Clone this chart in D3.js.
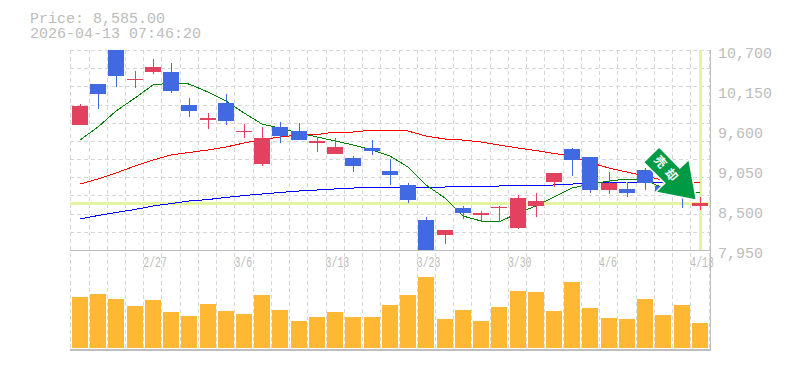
<!DOCTYPE html>
<html><head><meta charset="utf-8">
<script src="https://cdnjs.cloudflare.com/ajax/libs/d3/7.8.5/d3.min.js"></script>
<style>html,body{margin:0;padding:0;background:#fff}svg{display:block}text{font-family:"Liberation Mono",monospace}</style>
</head><body><svg id="c" width="785" height="370"></svg>
<script>
const dates=["2/20","2/24","2/25","2/26","2/27","3/2","3/3","3/4","3/5","3/6","3/9","3/10","3/11","3/12","3/13","3/16","3/17","3/18","3/19","3/23","3/24","3/25","3/26","3/27","3/30","3/31","4/1","4/2","4/3","4/6","4/7","4/8","4/9","4/10","4/13"];
const opens=[9930,10095,10345,10300,10466,10136,9861,9765,9724,9593,9490,9517,9462,9442,9366,9105,9311,8981,8637,7900,8225,8459,8459,8548,8665,8624,9009,9187,8775,8871,8734,8871,8747,8679,8598];
const closes=[9670,10230,10800,10290,10397,10397,9944,9737,9971,9579,9132,9641,9586,9428,9270,9215,9352,9036,8844,8362,8156,8527,8431,8534,8252,8555,8885,9339,9229,8775,8789,9050,8830,8844,8555];
const highs=[9960,10230,10850,10411,10576,10521,10040,9834,10095,9682,9641,9710,9696,9504,9490,9242,9462,9201,8871,8404,8225,8555,8486,8555,8706,8734,9009,9352,9229,9022,8885,9077,8885,8885,8679];
const lows=[9670,9895,10190,10177,10370,10109,9779,9614,9669,9490,9105,9421,9462,9297,9270,9022,9256,8844,8596,7850,8032,8376,8349,8335,8239,8404,8816,8967,8734,8720,8679,8775,8706,8527,8500];
const maShort=[9462,9641,9861,10040,10219,10246,10232,10122,9999,9834,9682,9627,9559,9504,9449,9394,9325,9242,9091,8844,8665,8417,8349,8335,8459,8555,8679,8802,8857,8899,8926,8912,8802,8747,8734];
const maMid=[8857,8926,9009,9105,9187,9256,9291,9325,9366,9421,9469,9504,9531,9538,9572,9572,9600,9600,9586,9517,9476,9462,9435,9394,9352,9318,9277,9242,9153,9077,9022,8967,8912,8885,8871];
const maLong=[8376,8424,8466,8507,8555,8589,8624,8644,8672,8699,8720,8741,8761,8775,8789,8802,8809,8816,8816,8816,8816,8830,8830,8830,8837,8837,8844,8857,8871,8878,8885,8885,8885,8885,8885];
const volumes=[51,54,49,42,48,36,32,44,37,34,53,38,27,31,36,31,31,43,53,71,29,38,27,41,57,56,37,66,40,30,29,49,33,43,25];
const priceTicks=[10700,10150,9600,9050,8500,7950];
const dateTicks=["2/27","3/6","3/13","3/23","3/30","4/6","4/13"];
const headerLines=["Price: 8,585.00","2026-04-13 07:46:20"];
const currentPrice=8585;
const arrowLabel="売却";

const svg=d3.select("#c");
const L=70.3,R=708.5,T=50,B=250,VB=348;
const x=d3.scaleBand().domain(dates).range([L,R]);
const y=d3.scaleLinear().domain([7950,10700]).range([B,T]);
const v=d3.scaleLinear().domain([0,98]).range([VB,B]);
const cx=d=>Math.round(x(d)+1.6)+8;
const GRID="#d6d6d6",AXIS="#bdbdbd",LABEL="#bcbcbc",UP="#4169e1",DOWN="#e2415f",CROSS="#e4f5a0",VOL="#ffb833";

svg.append("defs").append("clipPath").attr("id","main").append("rect").attr("x",L).attr("y",T).attr("width",R-L+2).attr("height",B-T);

// grid
const g=svg.append("g").attr("shape-rendering","crispEdges");
g.selectAll(".h").data(d3.range(7950,10701,250)).join("line").attr("x1",L).attr("x2",710)
 .attr("y1",d=>Math.round(y(d))+.5).attr("y2",d=>Math.round(y(d))+.5).attr("stroke",GRID).attr("stroke-dasharray","4 3");
g.selectAll(".v").data(dates.concat(["end"])).join("line")
 .attr("x1",d=>d==="end"?R+.5:Math.round(x(d))+.5).attr("x2",d=>d==="end"?R+.5:Math.round(x(d))+.5)
 .attr("y1",T).attr("y2",350).attr("stroke",GRID).attr("stroke-dasharray","4 3");

// crosshair
const cr=svg.append("g").attr("shape-rendering","crispEdges");
cr.append("rect").attr("x",L).attr("width",710-L).attr("y",Math.floor(y(currentPrice))-1).attr("height",3).attr("fill",CROSS);
cr.append("rect").attr("x",cx(dates[34])-1).attr("width",3).attr("y",T).attr("height",B-T).attr("fill",CROSS);

// volume
svg.append("g").attr("shape-rendering","crispEdges").selectAll("rect").data(dates).join("rect")
 .attr("x",d=>Math.round(x(d)+1.6)).attr("width",16)
 .attr("y",(d,i)=>v(volumes[i])).attr("height",(d,i)=>VB-v(volumes[i])).attr("fill",VOL);

// axis frame
const fr=svg.append("g").attr("shape-rendering","crispEdges").attr("stroke",AXIS);
fr.append("line").attr("x1",L).attr("x2",711).attr("y1",B+.5).attr("y2",B+.5);
fr.append("line").attr("x1",L).attr("x2",711).attr("y1",349.5).attr("y2",349.5).attr("stroke-width",2);
fr.append("line").attr("x1",710.5).attr("x2",710.5).attr("y1",T).attr("y2",350);

// moving averages
const lineGen=a=>d3.line().x((d,i)=>cx(dates[i])).y(d=>y(d))(a);
const ma=svg.append("g").attr("clip-path","url(#main)").attr("fill","none").attr("stroke-width",1).attr("shape-rendering","crispEdges");
ma.append("path").attr("d",lineGen(maLong)).attr("stroke","#0000ff");
ma.append("path").attr("d",lineGen(maMid)).attr("stroke","#ff0000");
ma.append("path").attr("d",lineGen(maShort)).attr("stroke","#008000");

// candles
const cg=svg.append("g").attr("clip-path","url(#main)").attr("shape-rendering","crispEdges");
dates.forEach((d,i)=>{
  const col=closes[i]>opens[i]?UP:DOWN;
  const top=Math.round(y(Math.max(opens[i],closes[i]))),bot=Math.round(y(Math.min(opens[i],closes[i])));
  cg.append("rect").attr("x",cx(d)).attr("width",1).attr("y",y(highs[i])).attr("height",y(lows[i])-y(highs[i])).attr("fill",col);
  cg.append("rect").attr("x",cx(d)-8).attr("width",16).attr("y",top).attr("height",Math.max(1,bot-top)).attr("fill",col);
});

// arrow annotation
const ax=cx(dates[34])-4.5,ay=y(currentPrice)-4.5;
const arrowShape=[[-36.4,-51.3],[-51,-37],[-29.7,-16],[-38.4,-7.6],[0,0],[-7,-38.6],[-15.7,-30.3]];
const ar=svg.append("g").attr("transform",`translate(${ax},${ay})`);
ar.append("polygon").attr("points",arrowShape.join(" ")).attr("fill","#009944").attr("stroke","#fff").attr("stroke-width",3).attr("paint-order","stroke");
ar.append("text").attr("transform","translate(-28,-29) rotate(50)").attr("text-anchor","middle").attr("dy","0.36em")
 .attr("fill","#fff").style("font-family",'"Noto Sans CJK JP"').style("font-weight",700).style("font-size","12px").style("letter-spacing","5px").text(arrowLabel);

// labels
svg.selectAll(".p").data(priceTicks).join("text").attr("x",718).attr("y",d=>y(d)+8)
 .attr("fill",LABEL).style("font-size","15px").text(d=>d3.format(",")(d));
svg.selectAll(".d").data(dateTicks).join("text").attr("x",d=>x(d)).attr("y",267)
 .attr("fill",LABEL).style("font-size","14px").attr("textLength",d=>d.length*5.9).attr("lengthAdjust","spacingAndGlyphs").text(d=>d);
svg.selectAll(".t").data(headerLines).join("text").attr("x",30).attr("y",(d,i)=>23+i*15)
 .attr("fill",LABEL).style("font-size","15px").text(d=>d);
</script></body></html>
